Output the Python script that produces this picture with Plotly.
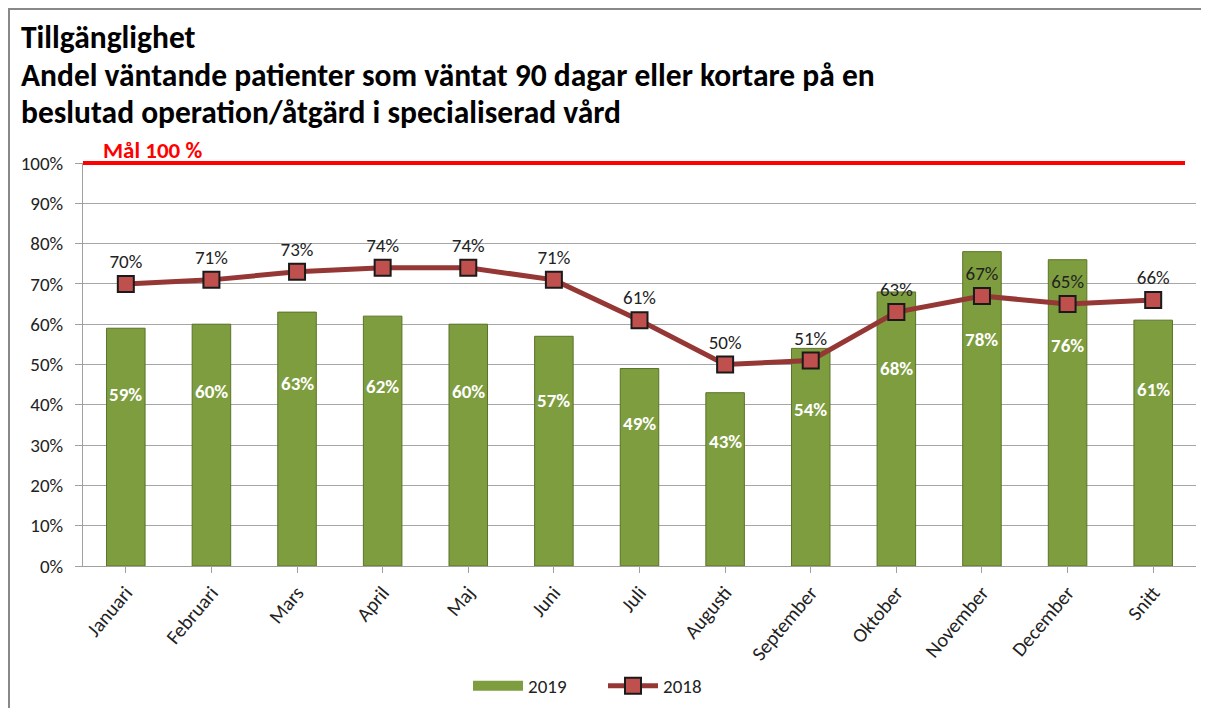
import plotly.graph_objects as go

months = ["Januari", "Februari", "Mars", "April", "Maj", "Juni", "Juli",
          "Augusti", "September", "Oktober", "November", "December", "Snitt"]
v2019 = [59, 60, 63, 62, 60, 57, 49, 43, 54, 68, 78, 76, 61]
v2018 = [70, 71, 73, 74, 74, 71, 61, 50, 51, 63, 67, 65, 66]
goal = 100
yticks = list(range(0, 101, 10))
YMAX = 100

FONT = "Carlito, Calibri, Lato, sans-serif"
GREEN = "#7E9D3E"

# page-pixel -> plot-domain helpers (plot area spans x 83..1196, y 163..566 on the page)
def dx(px):
    return (px - 83) / 1113

def dy(py):
    return (566 - py) / 403

fig = go.Figure()
fig.add_trace(go.Bar(
    x=months, y=v2019, name="2019", showlegend=False,
    marker=dict(color=GREEN, line=dict(color="#5A7328", width=1)),
    width=0.45,
))
# legend proxy for the bars (wide green swatch, as in the original)
fig.add_trace(go.Scatter(
    x=[None], y=[None], name="2019", mode="lines",
    line=dict(color=GREEN, width=12),
))
fig.add_trace(go.Scatter(
    x=months, y=v2018, name="2018", mode="lines+markers+text",
    line=dict(color="#953735", width=5),
    marker=dict(symbol="square", size=16, color="#C0504D",
                line=dict(color="#1A1A1A", width=2)),
    text=[f"{v}%" for v in v2018], textposition="top center",
    textfont=dict(size=19, color="#222222", family=FONT),
))

ann = []
for m, v in zip(months, v2019):
    ann.append(dict(x=m, y=v * 0.72, xref="x", yref="y", text=f"<b>{v}%</b>",
                    showarrow=False, font=dict(size=19, color="white", family=FONT)))

titles = ["Tillgänglighet",
          "Andel väntande patienter som väntat 90 dagar eller kortare på en",
          "beslutad operation/åtgärd i specialiserad vård"]
title_y = [37, 75, 112]
for t, ty in zip(titles, title_y):
    ann.append(dict(x=dx(19), y=dy(ty), xref="x domain", yref="y domain", text=f"<b>{t}</b>",
                    showarrow=False, font=dict(size=31.5, color="black", family=FONT),
                    xanchor="left", yanchor="middle"))

ann.append(dict(x=dx(101), y=goal, xref="x domain", yref="y",
                text="<b>Mål 100 %</b>", showarrow=False, xanchor="left", yanchor="bottom",
                yshift=-3, font=dict(size=23, color="#FF0000", family=FONT)))

shapes = [
    dict(type="line", xref="paper", yref="paper", x0=0, x1=dx(1185),
         y0=goal / YMAX, y1=goal / YMAX, line=dict(color="#FF0000", width=4), layer="above"),
    dict(type="rect", xref="paper", yref="paper",
         x0=dx(9), x1=dx(1260), y0=dy(760), y1=dy(9),
         line=dict(color="#888888", width=2), layer="below"),
]

fig.update_layout(
    width=1201, height=700,
    margin=dict(l=75, r=13, t=155, b=142, autoexpand=False),
    paper_bgcolor="white", plot_bgcolor="white",
    font=dict(family=FONT, size=17, color="#222222"),
    showlegend=True,
    legend=dict(orientation="h", x=dx(603), xanchor="center", y=dy(686), yanchor="middle",
                font=dict(size=19, family=FONT), traceorder="normal",
                itemwidth=50, entrywidth=70),
    annotations=ann, shapes=shapes,
    xaxis=dict(range=[-0.5, len(months) - 0.5], tickangle=-50, showline=True,
               linecolor="#A0A0A0", ticks="outside", ticklen=6, tickcolor="#A0A0A0",
               tickfont=dict(size=20), showgrid=False, automargin=False),
    yaxis=dict(range=[0, YMAX], tickvals=yticks, ticktext=[f"{t}%" for t in yticks],
               showgrid=True, gridcolor="#A6A6A6", gridwidth=1, showline=True,
               linecolor="#A0A0A0", ticks="outside", ticklen=7, tickcolor="#A0A0A0",
               tickfont=dict(size=19), ticklabelstandoff=8, zeroline=False,
               automargin=False),
)

fig.write_html("out.html")
